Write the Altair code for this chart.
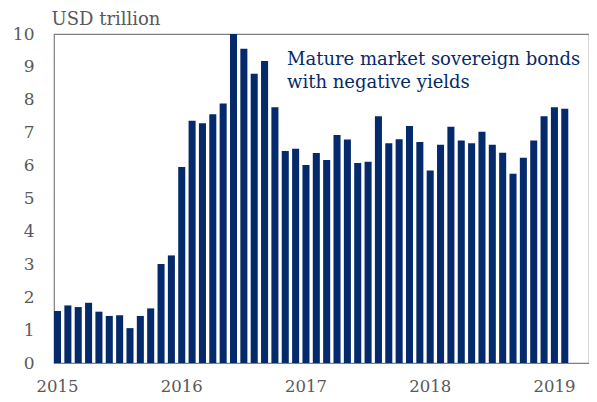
import altair as alt
import pandas as pd

months_all = [f"{y}-{m:02d}" for y in range(2015, 2020) for m in range(1, 13)][:52]
values = [1.58, 1.75, 1.70, 1.83, 1.56, 1.43, 1.45, 1.06, 1.43, 1.66, 3.01, 3.27,
          5.96, 7.36, 7.29, 7.56, 7.89, 10.0, 9.55, 8.79, 9.18, 7.77, 6.44, 6.51,
          6.02, 6.38, 6.17, 6.93, 6.79, 6.08, 6.12, 7.50, 6.68, 6.80, 7.20, 6.72,
          5.85, 6.63, 7.18, 6.76, 6.68, 7.03, 6.63, 6.39, 5.75, 6.24, 6.76, 7.50,
          7.77, 7.73]
months = months_all[:len(values)]
y_ticks = list(range(0, 11))

df = pd.DataFrame({"month": months, "value": values})

FONT = "DejaVu Serif"
GRAY = "#595959"
NAVY = "#052a6b"

bars = alt.Chart(df).mark_bar(color=NAVY, clip=True).encode(
    x=alt.X("month:O",
            scale=alt.Scale(domain=months_all, paddingInner=0.32, paddingOuter=0.0),
            axis=alt.Axis(title=None, labelAngle=0, ticks=False, domain=False,
                          labelExpr="substring(datum.value,5,7)=='01' ? substring(datum.value,0,4) : ''",
                          labelFont=FONT, labelFontSize=16.5, labelColor=GRAY,
                          labelPadding=15, labelOverlap=False)),
    y=alt.Y("value:Q", scale=alt.Scale(domain=[0, 10], nice=False),
            axis=alt.Axis(title="USD trillion", titleAngle=0, titleAlign="left",
                          titleBaseline="alphabetic", titleX=-3, titleY=-10,
                          titleFont=FONT, titleFontSize=18, titleFontWeight="normal",
                          titleColor=GRAY, values=y_ticks, ticks=False, domain=False,
                          grid=False, labelFont=FONT, labelFontSize=17,
                          labelColor=GRAY, labelPadding=20, labelBaseline="middle")),
)

note = alt.Chart(pd.DataFrame({"t": [["Mature market sovereign bonds", "with negative yields"]]})).mark_text(
    align="left", baseline="alphabetic", font=FONT, fontSize=18, color=NAVY, lineHeight=23
).encode(text="t", x=alt.value(233), y=alt.value(31))

chart = alt.layer(bars, note).properties(
    width=535, height=329,
    autosize=alt.AutoSizeParams(type="none"),
    padding={"left": 46, "top": 26, "right": 0, "bottom": 31},
).configure(background="white").configure_view(stroke="#7f7f7f", strokeWidth=1.2)

chart.save("out.html", embed_options={"renderer": "svg", "actions": False})
